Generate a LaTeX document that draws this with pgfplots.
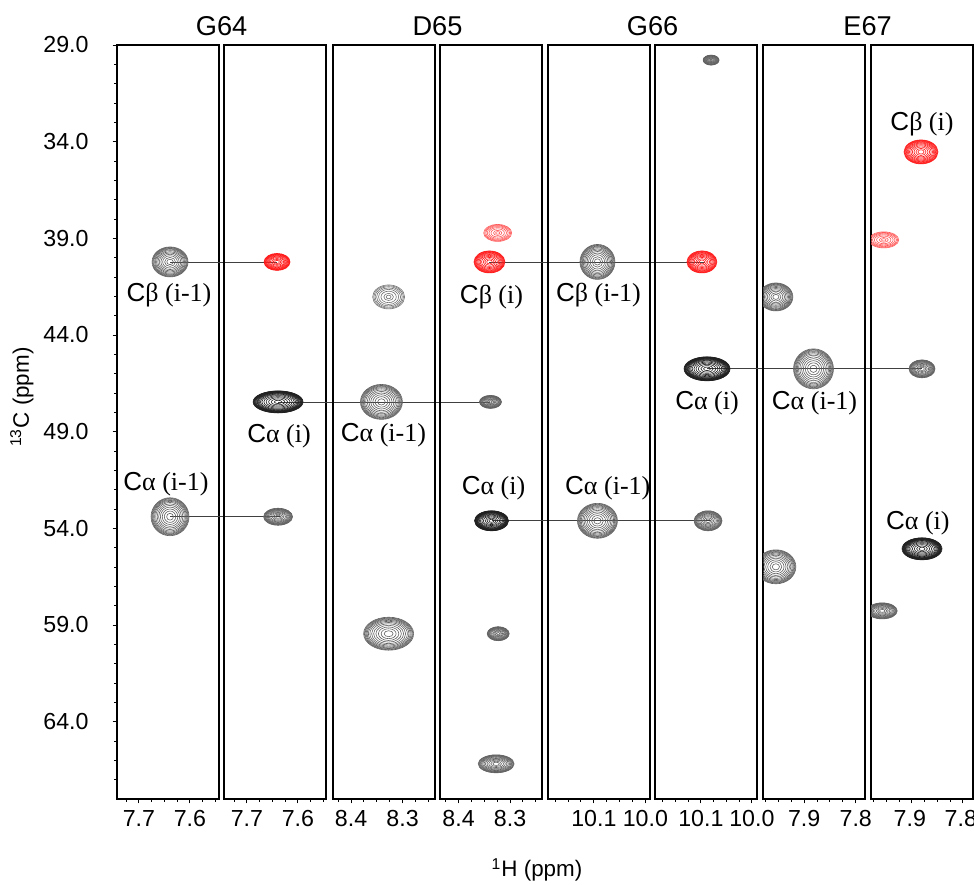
\documentclass[border=0pt]{standalone}
\usepackage{pgfplots}
\pgfplotsset{compat=1.18}
\usepackage{fontspec}
\setmainfont{Liberation Sans}
\newfontfamily\tms{Liberation Serif}
\newcommand{\pklab}[2]{C{\tms #1 (#2)}}

\def\fracsgray{1,0.97,0.94,0.90,0.86,0.81,0.75,0.68,0.60,0.51,0.41,0.30,0.18}
\def\fracsdark{1,0.985,0.97,0.955,0.94,0.92,0.90,0.88,0.855,0.83,0.80,0.76,0.71,0.65,0.57,0.48,0.38,0.27,0.15}
\def\fracslight{1,0.93,0.85,0.75,0.63,0.48,0.30,0.15}

\pgfdeclareplotmark{pkgray}{\foreach \f in \fracsgray{\pgfpathellipse{\pgfpointorigin}{\pgfpoint{\f*\pw pt}{0pt}}{\pgfpoint{0pt}{\f*\ph pt}}\pgfusepathqstroke}}
\pgfdeclareplotmark{pkdark}{\foreach \f in \fracsdark{\pgfpathellipse{\pgfpointorigin}{\pgfpoint{\f*\pw pt}{0pt}}{\pgfpoint{0pt}{\f*\ph pt}}\pgfusepathqstroke}}
\pgfdeclareplotmark{pklight}{\foreach \f in \fracslight{\pgfpathellipse{\pgfpointorigin}{\pgfpoint{\f*\pw pt}{0pt}}{\pgfpoint{0pt}{\f*\ph pt}}\pgfusepathqstroke}}

\tikzset{lab/.style={font=\fontsize{13}{15}\selectfont, inner sep=0pt}}

\pgfplotsset{
  peak/.style={only marks, mark=#1, line width=0.3pt,
    visualization depends on={\thisrow{w}\as\pw},
    visualization depends on={\thisrow{h}\as\ph},
    scatter, scatter/@pre marker code/.code={}, scatter/@post marker code/.code={}},
  gpk/.style={peak=pkgray, color=black!62},
  dpk/.style={peak=pkdark, color=black!88},
  lpk/.style={peak=pklight, color=black!55},
  rpk/.style={peak=pkgray, color=red!90},
  lrpk/.style={peak=pklight, color=red!65},
  link/.style={black!75, line width=0.4pt, no marks},
  strip/.style={width=51pt, height=377pt, scale only axis, anchor=south west,
    x dir=reverse, y dir=reverse, ymin=29, ymax=68,
    ytick=\empty, tick align=outside, xtick pos=left, ytick pos=left,
    axis line style={line width=1pt},
    major tick style={line width=0.5pt, black}, minor tick style={line width=0.5pt, black},
    major tick length=2.2pt, minor tick length=1.3pt,
    tick label style={font=\fontsize{11.6}{14}\selectfont},
    /pgf/number format/assume math mode=true,
    xticklabel style={/pgf/number format/.cd, fixed, fixed zerofill, precision=1},
    yticklabel style={xshift=-8.5pt, /pgf/number format/.cd, fixed, fixed zerofill, precision=1},
    title style={at={(1.025,1)}, anchor=base, yshift=-1pt, font=\fontsize{13.6}{16}\selectfont}},
  gh/.style={xtick={7.6,7.7}, minor xtick={7.55,7.575,7.625,7.65,7.675,7.725}},
  dh/.style={xtick={8.3,8.4}, minor xtick={8.25,8.275,8.325,8.35,8.375,8.425}},
  g6h/.style={xtick={10.0,10.1}, minor xtick={10.025,10.05,10.075,10.125,10.15,10.175}},
  eh/.style={xtick={7.8,7.9}, minor xtick={7.825,7.85,7.875,7.925,7.95,7.975}},
}

\begin{document}
\begin{tikzpicture}
\useasboundingbox (0,0) rectangle (487pt,442pt);

% Strip 1 : G64 (i-1)
\begin{axis}[strip, gh, at={(58.5pt,42.5pt)}, xmin=7.543, xmax=7.743, clip=false,
  ytick={29,34,...,64}, minor ytick={30,31,...,67},
  title={G64},
  ylabel={\textsuperscript{13}C (ppm)},
  ylabel style={at={(axis description cs:-0.863,0.533)}, anchor=base, font=\fontsize{11.2}{13}\selectfont}]
\addplot[gpk] table[row sep=\\]{x y w h\\ 7.639 40.22 9 7.5\\ 7.639 53.40 9.5 9.5\\};
\addplot[link] coordinates {(7.639,40.22) (7.4293,40.22)};
\addplot[link] coordinates {(7.639,53.40) (7.4234,53.40)};
\node[lab] at (axis cs:7.641,41.93) {\pklab{β}{i-1}};
\node[lab] at (axis cs:7.647,51.70) {\pklab{α}{i-1}};
\end{axis}

% Strip 2 : G64 (i)
\begin{axis}[strip, gh, at={(112pt,42.5pt)}, xmin=7.545, xmax=7.745, clip=false]
\addplot[rpk] table[row sep=\\]{x y w h\\ 7.641 40.22 6.5 4.25\\};
\addplot[dpk] table[row sep=\\]{x y w h\\ 7.639 47.46 12.5 5.5\\};
\addplot[gpk] table[row sep=\\]{x y w h\\ 7.639 53.40 7.25 4.25\\};
\addplot[link] coordinates {(7.639,47.46) (7.2234,47.46)};
\node[lab] at (axis cs:7.637,49.22) {\pklab{α}{i}};
\end{axis}

% Strip 3 : D65 (i-1)
\begin{axis}[strip, dh, at={(166.5pt,42.5pt)}, xmin=8.237, xmax=8.435, clip=false,
  title={D65}]
\addplot[lpk] table[row sep=\\]{x y w h\\ 8.327 42.03 8 6\\};
\addplot[gpk] table[row sep=\\]{x y w h\\ 8.341 47.46 10.5 8.75\\ 8.327 59.45 12.5 8.25\\};
\node[lab] at (axis cs:8.337,49.17) {\pklab{α}{i-1}};
\end{axis}

% Strip 4 : D65 (i)
\begin{axis}[strip, dh, at={(220pt,42.5pt)}, xmin=8.238, xmax=8.436, clip=false,
  xlabel={\textsuperscript{1}H (ppm)},
  xlabel style={at={(axis description cs:0.951,-0.1034)}, anchor=base, font=\fontsize{11.2}{13}\selectfont}]
\addplot[lrpk] table[row sep=\\]{x y w h\\ 8.324 38.72 7 4.25\\};
\addplot[rpk] table[row sep=\\]{x y w h\\ 8.340 40.22 7.75 5.5\\};
\addplot[gpk] table[row sep=\\]{x y w h\\ 8.338 47.46 5.5 3.25\\ 8.323 59.45 5.5 3.5\\ 8.327 66.18 9 4.5\\};
\addplot[dpk] table[row sep=\\]{x y w h\\ 8.336 53.61 8.5 5\\};
\addplot[link] coordinates {(8.340,40.22) (7.9223,40.22)};
\addplot[link] coordinates {(8.336,53.61) (7.9105,53.61)};
\node[lab] at (axis cs:8.336,42.03) {\pklab{β}{i}};
\node[lab] at (axis cs:8.332,51.91) {\pklab{α}{i}};
\end{axis}

% Strip 5 : G66 (i-1)
\begin{axis}[strip, g6h, at={(274pt,42.5pt)}, xmin=9.991, xmax=10.189, clip=false,
  title={G66}]
\addplot[gpk] table[row sep=\\]{x y w h\\ 10.093 40.22 8.75 8.75\\ 10.093 53.61 10 8.75\\};
\node[lab] at (axis cs:10.091,41.93) {\pklab{β}{i-1}};
\node[lab] at (axis cs:10.073,51.91) {\pklab{α}{i-1}};
\end{axis}

% Strip 6 : G66 (i)
\begin{axis}[strip, g6h, at={(327.5pt,42.5pt)}, xmin=9.99, xmax=10.19, clip=false]
\addplot[gpk] table[row sep=\\]{x y w h\\ 10.080 29.78 4 2.5\\ 10.086 53.61 7 5\\};
\addplot[rpk] table[row sep=\\]{x y w h\\ 10.098 40.22 7.5 5.5\\};
\addplot[dpk] table[row sep=\\]{x y w h\\ 10.088 45.75 11.5 6\\};
\addplot[link] coordinates {(10.088,45.75) (9.6665,45.75)};
\node[lab] at (axis cs:10.088,47.51) {\pklab{α}{i}};
\end{axis}

% Strip 7 : E67 (i-1)
\begin{axis}[strip, eh, at={(381.5pt,42.5pt)}, xmin=7.782, xmax=7.98,
  clip marker paths=true, title={E67}]
\addplot[gpk] table[row sep=\\]{x y w h\\ 7.955 42.03 8.5 7\\ 7.882 45.75 10 10\\ 7.955 55.99 10 8.5\\};
\node[lab] at (axis cs:7.88,47.51) {\pklab{α}{i-1}};
\end{axis}

% Strip 8 : E67 (i)
\begin{axis}[strip, eh, at={(435.5pt,42.5pt)}, xmin=7.78, xmax=7.98,
  clip marker paths=true, xticklabel style={/tikz/xshift=-1pt}]
\addplot[rpk] table[row sep=\\]{x y w h\\ 7.882 34.53 8.5 6\\};
\addplot[lrpk] table[row sep=\\]{x y w h\\ 7.955 39.08 7.5 4\\};
\addplot[gpk] table[row sep=\\]{x y w h\\ 7.880 45.75 6.5 4.5\\ 7.958 58.27 7.5 4\\};
\addplot[dpk] table[row sep=\\]{x y w h\\ 7.880 55.06 10 5.5\\};
\node[lab] at (axis cs:7.88,33.08) {\pklab{β}{i}};
\node[lab] at (axis cs:7.888,53.72) {\pklab{α}{i}};
\end{axis}
\end{tikzpicture}
\end{document}
